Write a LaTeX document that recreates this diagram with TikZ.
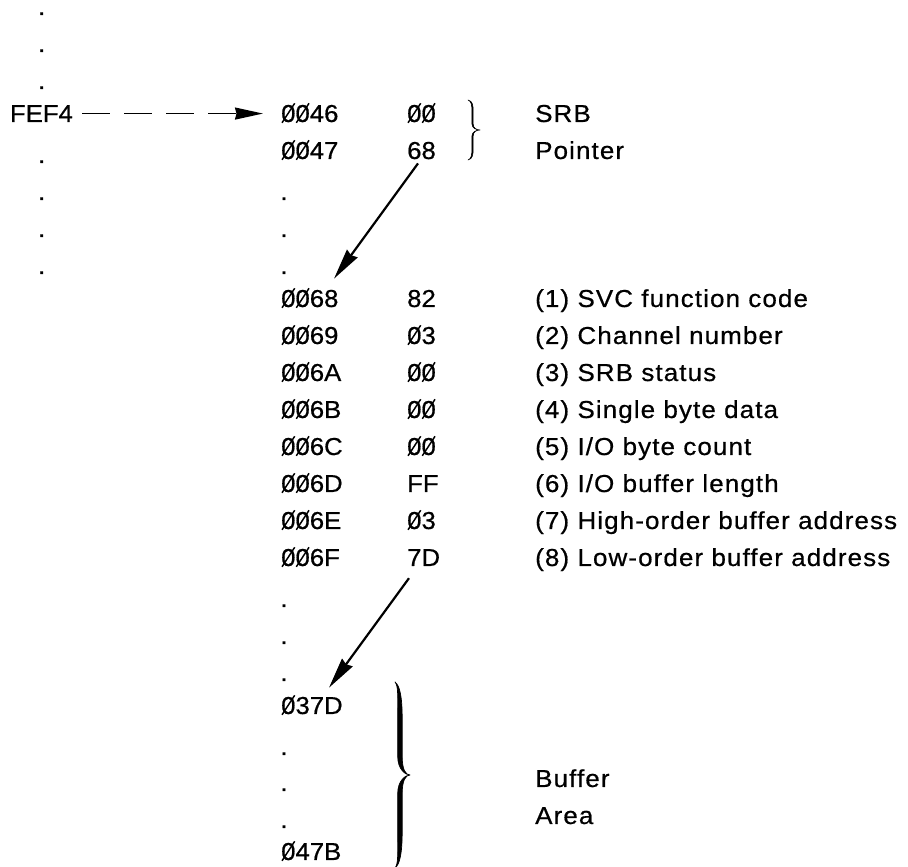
\documentclass[tikz,border=0pt]{standalone}
\usepackage{fontspec}
\setmainfont{Liberation Sans}
\newfontfamily\hexf[FakeStretch=1.05,FakeBold=0.6]{Liberation Sans}
\newfontfamily\descf[FakeStretch=1.06,LetterSpace=4.5,FakeBold=0.6]{Liberation Sans}
\usepackage{graphicx}
\usetikzlibrary{arrows.meta,calc}

\newcommand\zs{\ooalign{0\cr\hidewidth\raisebox{-0.05em}{\rotatebox{57}{\rule{0.95em}{0.06em}}}\hidewidth\cr}}

% x, ytop, height, width, thickness fraction, body position fraction, outline width
\newcommand\calbrace[7]{%
\begin{scope}[shift={(#1,#2)},xscale=#4,yscale=#3]
\filldraw[line width=#7,line join=round]
 (0,0) .. controls ({#6},-0.02) and ({#6+#5/2},-0.08) .. ({#6+#5/2},-0.2)
 -- ({#6+#5/2},-0.4) .. controls ({#6+#5/2},-0.47) and (0.7,-0.5) .. (1,-0.5)
 .. controls (0.7,-0.5) and ({#6+#5/2},-0.53) .. ({#6+#5/2},-0.6)
 -- ({#6+#5/2},-0.8) .. controls ({#6+#5/2},-0.92) and ({#6},-0.98) .. (0,-1)
 .. controls ({#6-0.1},-0.98) and ({#6-#5/2},-0.92) .. ({#6-#5/2},-0.8)
 -- ({#6-#5/2},-0.6) .. controls ({#6-#5/2},-0.53) and (0.7,-0.5) .. (1,-0.5)
 .. controls (0.7,-0.5) and ({#6-#5/2},-0.47) .. ({#6-#5/2},-0.4)
 -- ({#6-#5/2},-0.2) .. controls ({#6-#5/2},-0.08) and ({#6-0.1},-0.02) .. (0,0) -- cycle;
\end{scope}}

\begin{document}
\begin{tikzpicture}[x=1pt,y=1pt,
  hex/.style={font=\hexf\fontsize{24.5}{29}\selectfont, anchor=base west, inner sep=0pt},
  desc/.style={font=\descf\fontsize{24.5}{29}\selectfont, anchor=base west, inner sep=0pt},
  dotn/.style={font=\hexf\fontsize{24.5}{29}\selectfont, anchor=base, inner sep=0pt},
  ptr/.style={-{Stealth[length=31pt,width=13pt,inset=2pt]}, line width=2.2pt},
  dptr/.style={-{Stealth[length=28pt,width=12pt,inset=1.5pt]}, line width=1.7pt, dash pattern=on 28pt off 14pt}]
\useasboundingbox (0,0) rectangle (908,867);

% left column
\node[dotn] (l1) at (41.7,852) {.};
\node[dotn] (l2) at (41.7,815) {.};
\node[dotn] (l3) at (41.7,778) {.};
\node[hex] (f) at (9.8,745) {FEF4};
\node[dotn] (l4) at (41.7,704) {.};
\node[dotn] (l5) at (41.7,667) {.};
\node[dotn] (l6) at (41.7,630) {.};
\node[dotn] (l7) at (41.7,593) {.};

% address column
\node[hex] (a46) at (281,745) {\zs\zs46};
\node[hex] (a47) at (281,708) {\zs\zs47};
\node[dotn] (c1) at (284,667) {.};
\node[dotn] (c2) at (284,630) {.};
\node[dotn] (c3) at (284,593) {.};
\node[hex] (a68) at (281,560) {\zs\zs68};
\node[hex] (a69) at (281,523) {\zs\zs69};
\node[hex] (a6A) at (281,486) {\zs\zs6A};
\node[hex] (a6B) at (281,449) {\zs\zs6B};
\node[hex] (a6C) at (281,412) {\zs\zs6C};
\node[hex] (a6D) at (281,375) {\zs\zs6D};
\node[hex] (a6E) at (281,338) {\zs\zs6E};
\node[hex] (a6F) at (281,301) {\zs\zs6F};
\node[dotn] (c4) at (284,260) {.};
\node[dotn] (c5) at (284,223) {.};
\node[dotn] (c6) at (284,186) {.};
\node[hex] (a37D) at (281,153) {\zs37D};
\node[dotn] (c7) at (284,112) {.};
\node[dotn] (c8) at (284,76) {.};
\node[dotn] (c9) at (284,39) {.};
\node[hex] (a47B) at (281,7) {\zs47B};

% value column
\node[hex] (v46) at (407,745) {\zs\zs};
\node[hex] (v47) at (407,708) {68};
\node[hex] (v68) at (407,560) {82};
\node[hex] (v69) at (407,523) {\zs3};
\node[hex] (v6A) at (407,486) {\zs\zs};
\node[hex] (v6B) at (407,449) {\zs\zs};
\node[hex] (v6C) at (407,412) {\zs\zs};
\node[hex] (v6D) at (407,375) {FF};
\node[hex] (v6E) at (407,338) {\zs3};
\node[hex] (v6F) at (407,301) {7D};

% descriptions
\node[desc] (srb) at (535,745) {SRB};
\node[desc] (pnt) at (535,708) {Pointer};
\node[desc] (d1) at (535,560) {(1) SVC function code};
\node[desc] (d2) at (535,523) {(2) Channel number};
\node[desc] (d3) at (535,486) {(3) SRB status};
\node[desc] (d4) at (535,449) {(4) Single byte data};
\node[desc] (d5) at (535,412) {(5) I/O byte count};
\node[desc] (d6) at (535,375) {(6) I/O buffer length};
\node[desc] (d7) at (535,338) {(7) High-order buffer address};
\node[desc] (d8) at (535,301) {(8) Low-order buffer address};
\node[desc] (buf) at (535,80) {Buffer};
\node[desc] (area) at (535,43) {Area};

% braces
\calbrace{468}{767}{60}{12}{0.1}{0.38}{0.6pt}
\calbrace{395}{185}{186}{15}{0.3}{0.33}{0.7pt}

% arrows
\draw[dptr] ($(f.east)+(9,0)$) -- ($(f.east -| a46.west)+(-18,0)$);
\draw[ptr] ($(v47.south west)+(11,-4)$) -- ($(a68.north west)+(53,11)$);
\draw[ptr] ($(v6F.south west)+(2,-12)$) -- ($(a37D.north west)+(48,9)$);
\end{tikzpicture}
\end{document}
